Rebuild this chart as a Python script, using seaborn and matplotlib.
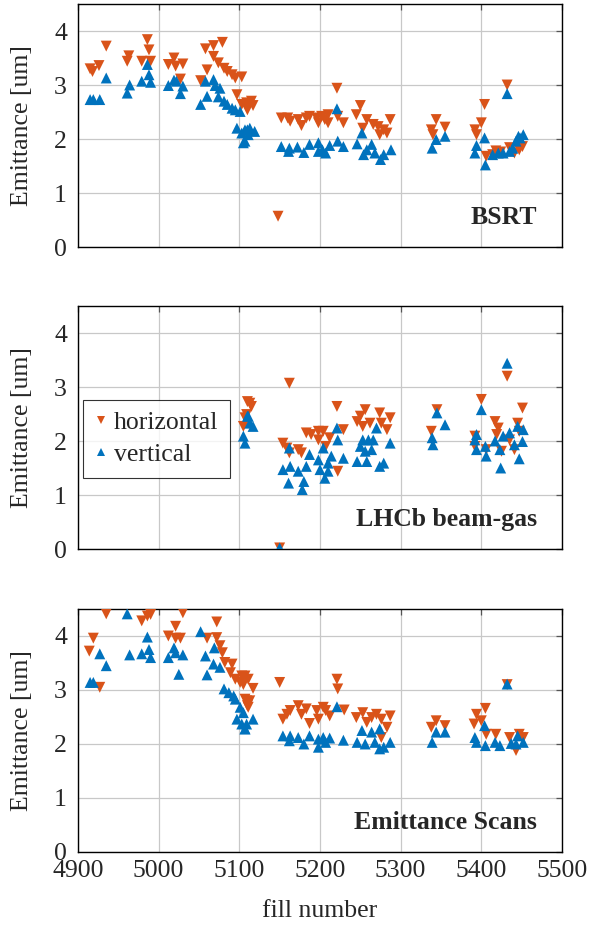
import numpy as np
import pandas as pd
import matplotlib
matplotlib.use("Agg")
import matplotlib.pyplot as plt
import seaborn as sns

# ---------------- data ----------------
# Panel 1: BSRT
bsrt_h_fill = [4915, 4918, 4926, 4935, 4963, 4961, 4986, 4988, 4979, 4990, 5012, 5019, 5021, 5030, 5027,
               5052, 5058, 5060, 5068, 5079, 5068, 5074, 5081, 5085, 5091, 5095, 5103, 5097, 5103, 5110,
               5109, 5115, 5117, 5110, 5148, 5152, 5160, 5163, 5173, 5177, 5183, 5187, 5196, 5198, 5202,
               5206, 5210, 5210, 5221, 5222, 5229, 5250, 5245, 5258, 5253, 5266, 5272, 5279, 5274, 5283,
               5287, 5338, 5344, 5340, 5355, 5392, 5394, 5400, 5404, 5406, 5432, 5414, 5418, 5424, 5435,
               5441, 5447, 5451]
bsrt_h_emit = [3.30, 3.25, 3.36, 3.72, 3.54, 3.44, 3.84, 3.65, 3.44, 3.44, 3.38, 3.50, 3.35, 3.39, 3.11,
               3.08, 3.67, 3.28, 3.73, 3.79, 3.53, 3.41, 3.31, 3.25, 3.19, 3.13, 3.15, 2.82, 2.64, 2.60,
               2.67, 2.70, 2.62, 2.54, 0.57, 2.39, 2.39, 2.33, 2.36, 2.25, 2.39, 2.42, 2.39, 2.30, 2.42,
               2.36, 2.45, 2.30, 2.94, 2.42, 2.30, 2.62, 2.45, 2.36, 2.20, 2.27, 2.23, 2.17, 2.08, 2.11,
               2.36, 2.17, 2.36, 2.08, 2.22, 2.17, 2.08, 2.30, 2.64, 1.68, 3.00, 1.71, 1.78, 1.76, 1.84,
               1.74, 1.80, 1.86]
bsrt_v_fill = [4915, 4919, 4927, 4935, 4961, 4964, 4979, 4986, 4988, 4990, 5012, 5019, 5022, 5027, 5030,
               5052, 5060, 5058, 5068, 5070, 5076, 5074, 5081, 5085, 5091, 5095, 5101, 5097, 5103, 5105,
               5110, 5107, 5113, 5119, 5107, 5111, 5152, 5161, 5162, 5172, 5180, 5187, 5198, 5198, 5203,
               5207, 5212, 5221, 5222, 5229, 5246, 5252, 5254, 5258, 5264, 5268, 5275, 5279, 5288, 5339,
               5344, 5355, 5392, 5394, 5404, 5405, 5432, 5414, 5421, 5427, 5435, 5439, 5443, 5448, 5452,
               5446]
bsrt_v_emit = [2.73, 2.73, 2.73, 3.13, 2.85, 3.00, 3.07, 3.38, 3.19, 3.05, 2.99, 3.09, 3.07, 2.84, 2.98,
               2.64, 2.79, 3.07, 3.10, 2.99, 2.94, 2.78, 2.70, 2.64, 2.57, 2.54, 2.51, 2.20, 2.11, 1.93,
               2.17, 2.17, 2.20, 2.14, 1.96, 2.08, 1.86, 1.77, 1.83, 1.85, 1.75, 1.90, 1.93, 1.77, 1.80,
               1.74, 1.88, 2.56, 1.96, 1.86, 1.91, 2.11, 1.71, 1.80, 1.90, 1.74, 1.62, 1.71, 1.80, 1.83,
               1.99, 2.05, 1.74, 1.88, 2.02, 1.52, 2.84, 1.71, 1.74, 1.74, 1.77, 1.83, 1.96, 2.02, 2.08,
               2.05]

# Panel 2: LHCb beam-gas
lhcb_h_fill = [5110, 5107, 5105, 5113, 5115, 5109, 5162, 5150, 5154, 5159, 5162, 5173, 5177, 5183, 5189,
               5198, 5198, 5204, 5207, 5212, 5221, 5222, 5229, 5246, 5256, 5253, 5262, 5274, 5276, 5283,
               5287, 5250, 5338, 5345, 5392, 5392, 5400, 5406, 5417, 5421, 5419, 5425, 5432, 5435, 5441,
               5445, 5451, 5447]
lhcb_h_emit = [2.73, 2.43, 2.27, 2.70, 2.64, 2.49, 3.07, 0.02, 1.96, 1.87, 1.78, 1.84, 1.78, 2.15, 2.12,
               2.18, 2.02, 2.18, 1.90, 2.06, 2.64, 1.44, 2.21, 2.36, 2.58, 2.27, 2.33, 2.52, 2.33, 2.21,
               2.43, 2.46, 2.18, 2.58, 2.09, 1.90, 2.77, 1.84, 2.36, 2.24, 2.12, 1.81, 3.20, 2.02, 1.84,
               2.33, 2.61, 2.18]
lhcb_v_fill = [5110, 5105, 5107, 5111, 5113, 5117, 5150, 5154, 5162, 5163, 5161, 5173, 5180, 5178, 5183,
               5187, 5198, 5200, 5204, 5206, 5210, 5210, 5214, 5221, 5222, 5229, 5246, 5253, 5250, 5256,
               5258, 5264, 5266, 5270, 5274, 5279, 5287, 5260, 5339, 5340, 5345, 5355, 5394, 5392, 5394,
               5400, 5405, 5406, 5417, 5423, 5424, 5427, 5432, 5435, 5441, 5445, 5447, 5451, 5452]
lhcb_v_emit = [2.46, 2.09, 1.96, 2.46, 2.33, 2.27, 0.02, 1.47, 1.87, 1.53, 1.22, 1.44, 1.25, 1.10, 1.53,
               1.75, 1.65, 1.47, 1.87, 1.31, 1.44, 1.59, 1.72, 2.24, 2.02, 1.68, 1.62, 2.02, 1.90, 1.81,
               1.62, 1.84, 2.02, 2.24, 1.53, 1.59, 1.96, 2.02, 2.06, 1.93, 2.52, 2.30, 2.12, 2.02, 1.84,
               2.58, 1.90, 1.72, 2.00, 1.84, 1.50, 2.09, 3.44, 2.15, 1.93, 2.27, 1.67, 1.99, 2.21]

# Panel 3: Emittance Scans
scan_h_fill = [4914, 4919, 4927, 4935, 4979, 4986, 4990, 5012, 5021, 5021, 5027, 5030, 5060, 5072, 5072,
               5076, 5079, 5082, 5091, 5089, 5095, 5103, 5101, 5107, 5110, 5107, 5111, 5109, 5113, 5117,
               5105, 5111, 5150, 5154, 5159, 5163, 5173, 5177, 5183, 5187, 5196, 5198, 5204, 5207, 5212,
               5221, 5222, 5230, 5245, 5253, 5258, 5264, 5270, 5276, 5283, 5287, 5276, 5338, 5344, 5355,
               5391, 5394, 5400, 5405, 5406, 5418, 5432, 5435, 5443, 5447, 5452]
scan_h_emit = [3.72, 3.96, 3.05, 4.41, 4.28, 4.37, 4.40, 4.00, 4.18, 3.96, 3.96, 4.43, 3.96, 4.26, 3.97,
               3.82, 3.69, 3.51, 3.48, 3.32, 3.20, 3.26, 3.14, 2.83, 2.71, 3.26, 3.20, 2.80, 2.80, 3.03,
               3.10, 2.68, 3.14, 2.46, 2.55, 2.62, 2.71, 2.55, 2.65, 2.38, 2.62, 2.46, 2.68, 2.62, 2.52,
               3.20, 3.02, 2.63, 2.49, 2.58, 2.40, 2.49, 2.55, 2.46, 2.31, 2.52, 2.12, 2.31, 2.43, 2.34,
               2.37, 2.55, 2.43, 2.66, 2.18, 2.18, 3.10, 2.12, 1.88, 2.18, 2.12]
scan_v_fill = [4915, 4919, 4927, 4935, 4961, 4964, 4979, 4986, 4988, 4990, 5012, 5019, 5021, 5025, 5030,
               5052, 5058, 5060, 5069, 5068, 5076, 5081, 5087, 5093, 5095, 5101, 5097, 5103, 5107, 5105,
               5109, 5117, 5107, 5154, 5162, 5163, 5173, 5180, 5187, 5198, 5198, 5204, 5207, 5212, 5221,
               5229, 5246, 5252, 5256, 5264, 5268, 5274, 5274, 5279, 5287, 5339, 5344, 5355, 5392, 5394,
               5404, 5405, 5417, 5423, 5432, 5437, 5443, 5445, 5452]
scan_v_emit = [3.14, 3.14, 3.67, 3.45, 4.41, 3.65, 3.67, 3.98, 3.75, 3.60, 3.60, 3.78, 3.69, 3.29, 3.65,
               4.08, 3.63, 3.28, 3.78, 3.48, 3.42, 3.02, 2.95, 2.89, 2.83, 2.68, 2.46, 2.37, 2.28, 2.58,
               2.37, 2.46, 2.28, 2.15, 2.06, 2.15, 2.12, 2.00, 2.15, 2.09, 1.94, 2.12, 2.03, 2.11, 2.69,
               2.07, 2.03, 2.25, 2.00, 2.22, 2.03, 2.28, 1.91, 1.94, 2.03, 2.03, 2.22, 2.22, 2.12, 2.03,
               2.34, 1.97, 2.03, 1.97, 3.11, 2.01, 2.00, 2.15, 2.03]

panel_titles = ["BSRT", "LHCb beam-gas", "Emittance Scans"]
series_names = ["horizontal", "vertical"]
x_ticks = [4900, 5000, 5100, 5200, 5300, 5400, 5500]
y_ticks = [0, 1, 2, 3, 4]

panels = [
    (bsrt_h_fill, bsrt_h_emit, bsrt_v_fill, bsrt_v_emit),
    (lhcb_h_fill, lhcb_h_emit, lhcb_v_fill, lhcb_v_emit),
    (scan_h_fill, scan_h_emit, scan_v_fill, scan_v_emit),
]

# ---------------- style ----------------
sns.set_theme(style="white")
plt.rcParams['font.family'] = ['Liberation Serif', 'DejaVu Serif']

orange = "#D95319"
blue = "#0072BD"
palette = {"horizontal": orange, "vertical": blue}
markers = {"horizontal": "v", "vertical": "^"}
FS = 18.5

fig = plt.figure(figsize=(6.0, 9.26), dpi=100)
left, width, height = 78 / 600, 484 / 600, 243 / 926
bottoms_px = [247, 549, 852]
axes = [fig.add_axes([left, 1 - b / 926, width, height]) for b in bottoms_px]

for i, (ax, (hf, he, vf, ve), title) in enumerate(zip(axes, panels, panel_titles)):
    df = pd.DataFrame({
        "fill": list(hf) + list(vf),
        "emit": list(he) + list(ve),
        "plane": [series_names[0]] * len(hf) + [series_names[1]] * len(vf),
    })
    sns.scatterplot(data=df, x="fill", y="emit", hue="plane", style="plane",
                    palette=palette, markers=markers, s=62, linewidth=0,
                    ax=ax, legend=(i == 1), zorder=3)
    ax.set_xlim(4900, 5500)
    ax.set_ylim(0, 4.5)
    ax.set_xticks(x_ticks)
    ax.set_yticks(y_ticks)
    ax.grid(True, color="#c8c8c8", linewidth=0.9, zorder=0)
    ax.set_axisbelow(True)
    for sp in ax.spines.values():
        sp.set_color("black")
        sp.set_linewidth(1.0)
    ax.tick_params(axis="both", direction="in", length=4, width=0.9, color="#555555",
                   top=True, right=True, labelsize=FS)
    ax.tick_params(axis="y", pad=8)
    ax.tick_params(axis="x", pad=6)
    ax.set_ylabel("Emittance [um]", fontsize=FS)
    if i < 2:
        ax.set_xlabel("")
        ax.tick_params(axis="x", labelbottom=False)
    else:
        ax.set_xlabel("fill number", fontsize=FS, labelpad=13)
    ax.text(0.948, 0.12, title, transform=ax.transAxes,
            ha="right", va="center", fontsize=FS, fontweight="bold")
    ax.yaxis.set_label_coords(-0.093, 0.5)

# legend in middle panel
leg = axes[1].get_legend()
handles, labels = axes[1].get_legend_handles_labels()
leg.remove()
lg = axes[1].legend(handles, labels, loc="upper left", bbox_to_anchor=(0.01, 0.615),
                    frameon=True, fancybox=False, edgecolor="black", fontsize=FS,
                    handlelength=0.5, handletextpad=0.25, borderpad=0.45, labelspacing=0.35,
                    borderaxespad=0.0, markerscale=0.75)
lg.get_frame().set_linewidth(0.8)

fig.savefig("out.png", dpi=100)
